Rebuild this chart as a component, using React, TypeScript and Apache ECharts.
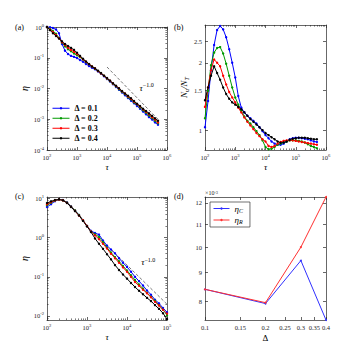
import React, { useEffect, useRef } from "react";
import * as echarts from "echarts";

const FONT = "'Liberation Serif', 'DejaVu Serif', 'Times New Roman', serif";
const AXIS_COLOR = "#262626";

const DELTA_NAMES = ["Δ = 0.1", "Δ = 0.2", "Δ = 0.3", "Δ = 0.4"];
const COLORS = ["#0000ff", "#009a00", "#ff0000", "#000000"];

// tau samples for panels (a) and (b)
const TAU_AB = [
  100, 126, 158, 200, 251, 316, 398, 501, 631, 794,
  1000, 1259, 1585, 1995, 2512, 3162, 3981, 5012, 6310, 7943,
  10000, 12589, 15849, 19953, 25119, 31623, 39811, 50119, 63096, 79433,
  100000, 125893, 158489, 199526, 251189, 316228, 398107, 501187,
];

// panel (a): eta
const ETA_A_01 = [1, 0.98, 0.93, 0.83, 0.63, 0.28, 0.17, 0.132, 0.115, 0.107,
  0.098, 0.085, 0.074, 0.063, 0.054, 0.047, 0.042, 0.036, 0.030, 0.025,
  0.0204, 0.017, 0.0138, 0.0112, 0.0091, 0.0074, 0.006, 0.0049, 0.004, 0.0033,
  0.0027, 0.0022, 0.00178, 0.00145, 0.00117, 0.00098, 0.00079, 0.00066];
const ETA_A_02 = [1, 0.87, 0.74, 0.6, 0.44, 0.31, 0.234, 0.19, 0.162, 0.138,
  0.12, 0.105, 0.087, 0.072, 0.062, 0.052, 0.044, 0.037, 0.031, 0.026,
  0.021, 0.0174, 0.0141, 0.0117, 0.0095, 0.0078, 0.0065, 0.0052, 0.0044, 0.0035,
  0.003, 0.0024, 0.00195, 0.00162, 0.00132, 0.0011, 0.00089, 0.00074];
const ETA_A_03 = [1, 0.83, 0.69, 0.55, 0.43, 0.32, 0.26, 0.21, 0.18, 0.155,
  0.132, 0.11, 0.089, 0.074, 0.062, 0.052, 0.045, 0.037, 0.031, 0.026,
  0.0214, 0.0178, 0.0145, 0.012, 0.01, 0.0081, 0.0068, 0.0055, 0.0046, 0.0037,
  0.0031, 0.0026, 0.0021, 0.00174, 0.00145, 0.00117, 0.00098, 0.00079];
const ETA_A_04 = [1, 0.79, 0.63, 0.51, 0.42, 0.34, 0.28, 0.24, 0.21, 0.18,
  0.145, 0.115, 0.093, 0.076, 0.063, 0.052, 0.045, 0.038, 0.032, 0.026,
  0.022, 0.018, 0.0148, 0.0123, 0.0102, 0.0083, 0.0069, 0.0058, 0.0048, 0.0039,
  0.0032, 0.0027, 0.0022, 0.00186, 0.00155, 0.00129, 0.00107, 0.00089];

// panel (b): Nu / NT
const NU_B_01 = [1.03, 1.35, 1.85, 2.4, 2.8, 2.92, 2.82, 2.6, 2.3, 2.0,
  1.72, 1.42, 1.26, 1.2, 1.16, 1.13, 1.1, 1.07, 1.03, 0.99,
  0.95, 0.92, 0.89, 0.87, 0.86, 0.86, 0.87, 0.89, 0.91, 0.92,
  0.925, 0.925, 0.92, 0.915, 0.91, 0.9, 0.89, 0.885];
const NU_B_02 = [1.13, 1.5, 1.95, 2.22, 2.33, 2.35, 2.2, 1.98, 1.75, 1.55,
  1.4, 1.3, 1.22, 1.15, 1.1, 1.07, 1.03, 0.99, 0.95, 0.9,
  0.84, 0.822, 0.825, 0.84, 0.86, 0.87, 0.88, 0.89, 0.9, 0.9,
  0.9, 0.895, 0.89, 0.88, 0.865, 0.85, 0.84, 0.83];
const NU_B_03 = [1.27, 1.55, 1.85, 2.07, 2.0, 1.93, 1.75, 1.6, 1.48, 1.4,
  1.33, 1.26, 1.2, 1.14, 1.09, 1.05, 1.01, 0.97, 0.94, 0.91,
  0.89, 0.85, 0.84, 0.85, 0.87, 0.885, 0.895, 0.9, 0.9, 0.9,
  0.895, 0.89, 0.885, 0.88, 0.875, 0.87, 0.865, 0.86];
const NU_B_04 = [1.36, 1.55, 1.75, 1.93, 1.8, 1.68, 1.55, 1.45, 1.38, 1.33,
  1.3, 1.27, 1.24, 1.2, 1.16, 1.12, 1.09, 1.06, 1.03, 1.0,
  0.97, 0.95, 0.93, 0.91, 0.89, 0.878, 0.88, 0.89, 0.905, 0.915,
  0.92, 0.925, 0.925, 0.925, 0.92, 0.915, 0.91, 0.91];

// panel (c)
const TAU_C = [
  100, 126, 158, 200, 251, 316, 398, 501, 631, 794,
  1000, 1259, 1585, 1995, 2512, 3162, 3981, 5012, 6310, 7943,
  10000, 12589, 15849, 19953, 25119, 31623, 39811, 50119, 63096, 79433,
  100000,
];
const ETA_C_01 = [6.1, 7.2, 8.6, 9.5, 9.2, 8.0, 6.4, 5.0, 3.8, 2.8,
  2.0, 1.5, 1.32, 1.2, 0.85, 0.63, 0.5, 0.4, 0.3, 0.23,
  0.18, 0.135, 0.1, 0.078, 0.06, 0.045, 0.035, 0.026, 0.021, 0.016,
  0.0125];
const ETA_C_02 = [6.8, 7.8, 8.9, 9.5, 9.1, 7.9, 6.3, 5.0, 3.8, 2.8,
  2.0, 1.45, 1.23, 1.05, 0.78, 0.56, 0.42, 0.32, 0.25, 0.19,
  0.145, 0.11, 0.083, 0.064, 0.05, 0.039, 0.031, 0.0245, 0.019, 0.0145,
  0.0105];
const ETA_C_03 = [7.2, 8.1, 9.0, 9.5, 9.0, 7.8, 6.2, 4.9, 3.7, 2.8,
  2.0, 1.45, 1.15, 0.92, 0.7, 0.53, 0.39, 0.3, 0.23, 0.175,
  0.135, 0.1, 0.074, 0.059, 0.047, 0.038, 0.03, 0.023, 0.0185, 0.0145,
  0.0115];
const ETA_C_04 = [7.7, 8.5, 9.2, 9.6, 9.0, 7.7, 6.1, 4.8, 3.7, 2.7,
  1.95, 1.4, 0.96, 0.7, 0.52, 0.38, 0.28, 0.2, 0.15, 0.115,
  0.09, 0.07, 0.055, 0.044, 0.036, 0.029, 0.024, 0.019, 0.0152, 0.0118,
  0.0083];

// reference slope tau^-1.0
const REF_A_TAU = [10000, 500000];
const REF_A_ETA = [0.05, 0.001];
const REF_C_TAU = [4000, 100000];
const REF_C_ETA = [0.5, 0.02];

// panel (d)
const DELTA_D = [0.1, 0.2, 0.3, 0.4];
const ETA_CD = [0.0084, 0.00792, 0.00946, 0.0074];
const ETA_RD = [0.0084, 0.00795, 0.01, 0.0123];

// ticks
const X_TICKS_AB = [1e2, 1e3, 1e4, 1e5, 1e6];
const Y_TICKS_A = [1e-4, 1e-3, 1e-2, 1e-1, 1];
const Y_TICKS_B = [1, 1.5, 2, 2.5];
const X_TICKS_C = [1e2, 1e3, 1e4, 1e5];
const Y_TICKS_C = [1e-2, 1e-1, 1, 10];
const X_TICKS_D = [0.1, 0.15, 0.2, 0.25, 0.3, 0.35, 0.4];
const Y_TICKS_D = [0.008, 0.009, 0.01, 0.011, 0.012];

function minorLog(min: number, max: number): number[] {
  const out: number[] = [];
  for (let e = Math.floor(Math.log10(min)); e <= Math.ceil(Math.log10(max)); e++) {
    for (let k = 2; k <= 9; k++) {
      const v = k * Math.pow(10, e);
      if (v > min * 1.0001 && v < max * 0.9999) out.push(v);
    }
  }
  return out;
}

const RICH_TICK = {
  s: { fontSize: 4.6, fontFamily: FONT, color: AXIS_COLOR, verticalAlign: "top", lineHeight: 5 },
};
const pow10 = (v: number) => `10{s|${Math.round(Math.log10(v))}}`;

const xAxes: any[] = [];
const yAxes: any[] = [];

function addAxes(
  list: any[], dim: "x" | "y", grid: number, min: number, max: number,
  ticks: number[], minor: number[], formatter: any, extra: any
): number {
  const main = dim === "x" ? "bottom" : "left";
  const opp = dim === "x" ? "top" : "right";
  const base = { type: "log", logBase: 10, gridIndex: grid, min, max, splitLine: { show: false } };
  const line = { show: true, onZero: false, lineStyle: { color: AXIS_COLOR, width: 0.7 } };
  const idx = list.length;
  list.push({
    ...base, position: main, axisLine: line,
    axisTick: { show: true, inside: true, length: 3, customValues: ticks, lineStyle: { color: AXIS_COLOR, width: 0.7 } },
    axisLabel: {
      show: true, customValues: ticks, formatter, fontFamily: FONT, fontSize: 6.5,
      color: AXIS_COLOR, margin: 3, lineHeight: 9, rich: RICH_TICK,
    },
    ...extra,
  });
  list.push({
    ...base, position: opp, axisLine: line,
    axisTick: { show: true, inside: true, length: 3, customValues: ticks, lineStyle: { color: AXIS_COLOR, width: 0.7 } },
    axisLabel: { show: false },
  });
  if (minor.length) {
    for (const pos of [main, opp]) {
      list.push({
        ...base, position: pos, axisLine: { show: false },
        axisTick: { show: true, inside: true, length: 1.6, customValues: minor, lineStyle: { color: AXIS_COLOR, width: 0.6 } },
        axisLabel: { show: false },
      });
    }
  }
  return idx;
}

const tauName = {
  name: "τ", nameLocation: "middle", nameGap: 11,
  nameTextStyle: { fontFamily: FONT, fontStyle: "italic", fontSize: 9, color: "#000" },
};
const etaName = {
  name: "η", nameLocation: "middle", nameGap: 17, nameRotate: 90,
  nameTextStyle: { fontFamily: FONT, fontStyle: "italic", fontSize: 10, color: "#000" },
};

const GRIDS = [
  { left: 47, top: 27, width: 120, height: 123 },
  { left: 205, top: 25, width: 121, height: 125 },
  { left: 47, top: 197, width: 120, height: 123 },
  { left: 205, top: 197, width: 121, height: 123 },
];

// (a)
const xa = addAxes(xAxes, "x", 0, 1e2, 1e6, X_TICKS_AB, minorLog(1e2, 1e6), pow10, tauName);
const ya = addAxes(yAxes, "y", 0, 1e-4, 1, Y_TICKS_A, minorLog(1e-4, 1), pow10, etaName);
// (b)
const xb = addAxes(xAxes, "x", 1, 1e2, 1e6, X_TICKS_AB, minorLog(1e2, 1e6), pow10, tauName);
const yb = addAxes(yAxes, "y", 1, 0.815, 2.95, Y_TICKS_B, [], (v: number) => `${v}`, {
  name: "{i|N}{s|u}{i|/N}{s|T}", nameLocation: "middle", nameGap: 13, nameRotate: 90,
  nameTextStyle: {
    fontFamily: FONT, fontSize: 9, color: "#000",
    rich: {
      i: { fontFamily: FONT, fontStyle: "italic", fontSize: 9, lineHeight: 11, color: "#000" },
      s: { fontFamily: FONT, fontStyle: "italic", fontSize: 6, lineHeight: 5, verticalAlign: "bottom", color: "#000" },
    },
  },
});
// (c)
const xc = addAxes(xAxes, "x", 2, 1e2, 1e5, X_TICKS_C, minorLog(1e2, 1e5), pow10, tauName);
const yc = addAxes(yAxes, "y", 2, 0.0079, 11, Y_TICKS_C, minorLog(0.0079, 11), pow10, etaName);
// (d)
const xd = addAxes(xAxes, "x", 3, 0.1, 0.4, X_TICKS_D, [], (v: number) => `${v}`, {
  name: "Δ", nameLocation: "middle", nameGap: 13,
  nameTextStyle: { fontFamily: FONT, fontSize: 9, color: "#000" },
});
const yd = addAxes(yAxes, "y", 3, 0.0074, 0.0123, Y_TICKS_D, [], (v: number) => `${Math.round(v * 1000)}`, {
  name: "×10{s|-3}", nameLocation: "end", nameGap: 1,
  nameTextStyle: {
    fontFamily: FONT, fontSize: 6, color: AXIS_COLOR, align: "left", verticalAlign: "bottom",
    rich: { s: { fontSize: 4.4, fontFamily: FONT, color: AXIS_COLOR, verticalAlign: "top", lineHeight: 4 } },
  },
});

function lineSeries(name: string, color: string, xi: number, yi: number, xs: number[], ys: number[], size = 2.4) {
  return {
    type: "line", name, xAxisIndex: xi, yAxisIndex: yi,
    data: xs.map((x, i) => [x, ys[i]]),
    showSymbol: true, symbol: "circle", symbolSize: size,
    lineStyle: { color, width: 1 }, itemStyle: { color },
    emphasis: { disabled: true }, silent: true, clip: true,
  };
}

const tauLabelRich = {
  i: { fontFamily: FONT, fontStyle: "italic", fontSize: 9, lineHeight: 11, color: "#000" },
  s: { fontFamily: FONT, fontSize: 6, lineHeight: 6, verticalAlign: "top", color: "#000" },
};

function refSeries(xi: number, yi: number, xs: number[], ys: number[], labelAt: number[]) {
  return {
    type: "line", name: "ref", xAxisIndex: xi, yAxisIndex: yi,
    data: xs.map((x, i) => [x, ys[i]]),
    showSymbol: false, silent: true,
    lineStyle: { color: "#555555", width: 0.8, type: [3, 2] },
    markPoint: {
      symbol: "circle", symbolSize: 0, silent: true,
      label: { show: true, position: "inside", formatter: "{i|τ}{s|−1.0}", rich: tauLabelRich },
      data: [{ coord: labelAt }],
    },
  };
}

const A_SETS = [ETA_A_01, ETA_A_02, ETA_A_03, ETA_A_04];
const B_SETS = [NU_B_01, NU_B_02, NU_B_03, NU_B_04];
const C_SETS = [ETA_C_01, ETA_C_02, ETA_C_03, ETA_C_04];

const series: any[] = [];
DELTA_NAMES.forEach((n, k) => series.push(lineSeries(n, COLORS[k], xa, ya, TAU_AB, A_SETS[k])));
series.push(refSeries(xa, ya, REF_A_TAU, REF_A_ETA, [2.1e5, 0.0104]));
DELTA_NAMES.forEach((n, k) => series.push(lineSeries(n, COLORS[k], xb, yb, TAU_AB, B_SETS[k])));
DELTA_NAMES.forEach((n, k) => series.push(lineSeries(n, COLORS[k], xc, yc, TAU_C, C_SETS[k])));
series.push(refSeries(xc, yc, REF_C_TAU, REF_C_ETA, [3.4e4, 0.237]));
series.push(lineSeries("ηC", "#3030ff", xd, yd, DELTA_D, ETA_CD, 2));
series.push(lineSeries("ηR", "#ff3030", xd, yd, DELTA_D, ETA_RD, 2));

const panelTitle = (text: string, left: number, top: number) => ({
  text, left, top, padding: 0,
  textStyle: { fontFamily: FONT, fontSize: 8, fontWeight: "normal", color: "#000" },
});

const option: any = {
  animation: false,
  backgroundColor: "#ffffff",
  title: [
    panelTitle("(a)", 15, 23),
    panelTitle("(b)", 174, 23),
    panelTitle("(c)", 15, 192),
    panelTitle("(d)", 174, 192),
  ],
  grid: GRIDS,
  xAxis: xAxes,
  yAxis: yAxes,
  legend: [
    {
      data: DELTA_NAMES, left: 52, top: 104, orient: "vertical",
      itemWidth: 17, itemHeight: 3, itemGap: 1.5, padding: 0, selectedMode: false,
      lineStyle: { width: 1 },
      textStyle: { fontFamily: FONT, fontSize: 8, lineHeight: 8.5, fontWeight: "bold", color: "#000" },
    },
    {
      data: ["ηC", "ηR"], left: 210, top: 202, orient: "vertical",
      itemWidth: 16, itemHeight: 3, itemGap: 2, padding: [2, 7, 2, 3], selectedMode: false,
      lineStyle: { width: 1 },
      borderColor: "#333", borderWidth: 0.7, backgroundColor: "#ffffff",
      formatter: (n: string) => (n === "ηC" ? "{i|η}{s|C}" : "{i|η}{s|R}"),
      textStyle: {
        fontFamily: FONT, fontSize: 9, color: "#000",
        rich: {
          i: { fontFamily: FONT, fontStyle: "italic", fontSize: 9, lineHeight: 10, color: "#000" },
          s: { fontFamily: FONT, fontStyle: "italic", fontSize: 6, lineHeight: 5, verticalAlign: "bottom", color: "#000" },
        },
      },
    },
  ],
  series,
};

export default function App() {
  const ref = useRef<HTMLDivElement>(null);
  useEffect(() => {
    if (!ref.current) return;
    const chart = echarts.init(ref.current, null, { renderer: "svg" });
    chart.setOption(option);
    return () => chart.dispose();
  }, []);
  return (
    <div
      ref={ref}
      style={{ position: "fixed", left: 0, top: 0, width: 360, height: 360, background: "#fff" }}
    />
  );
}
